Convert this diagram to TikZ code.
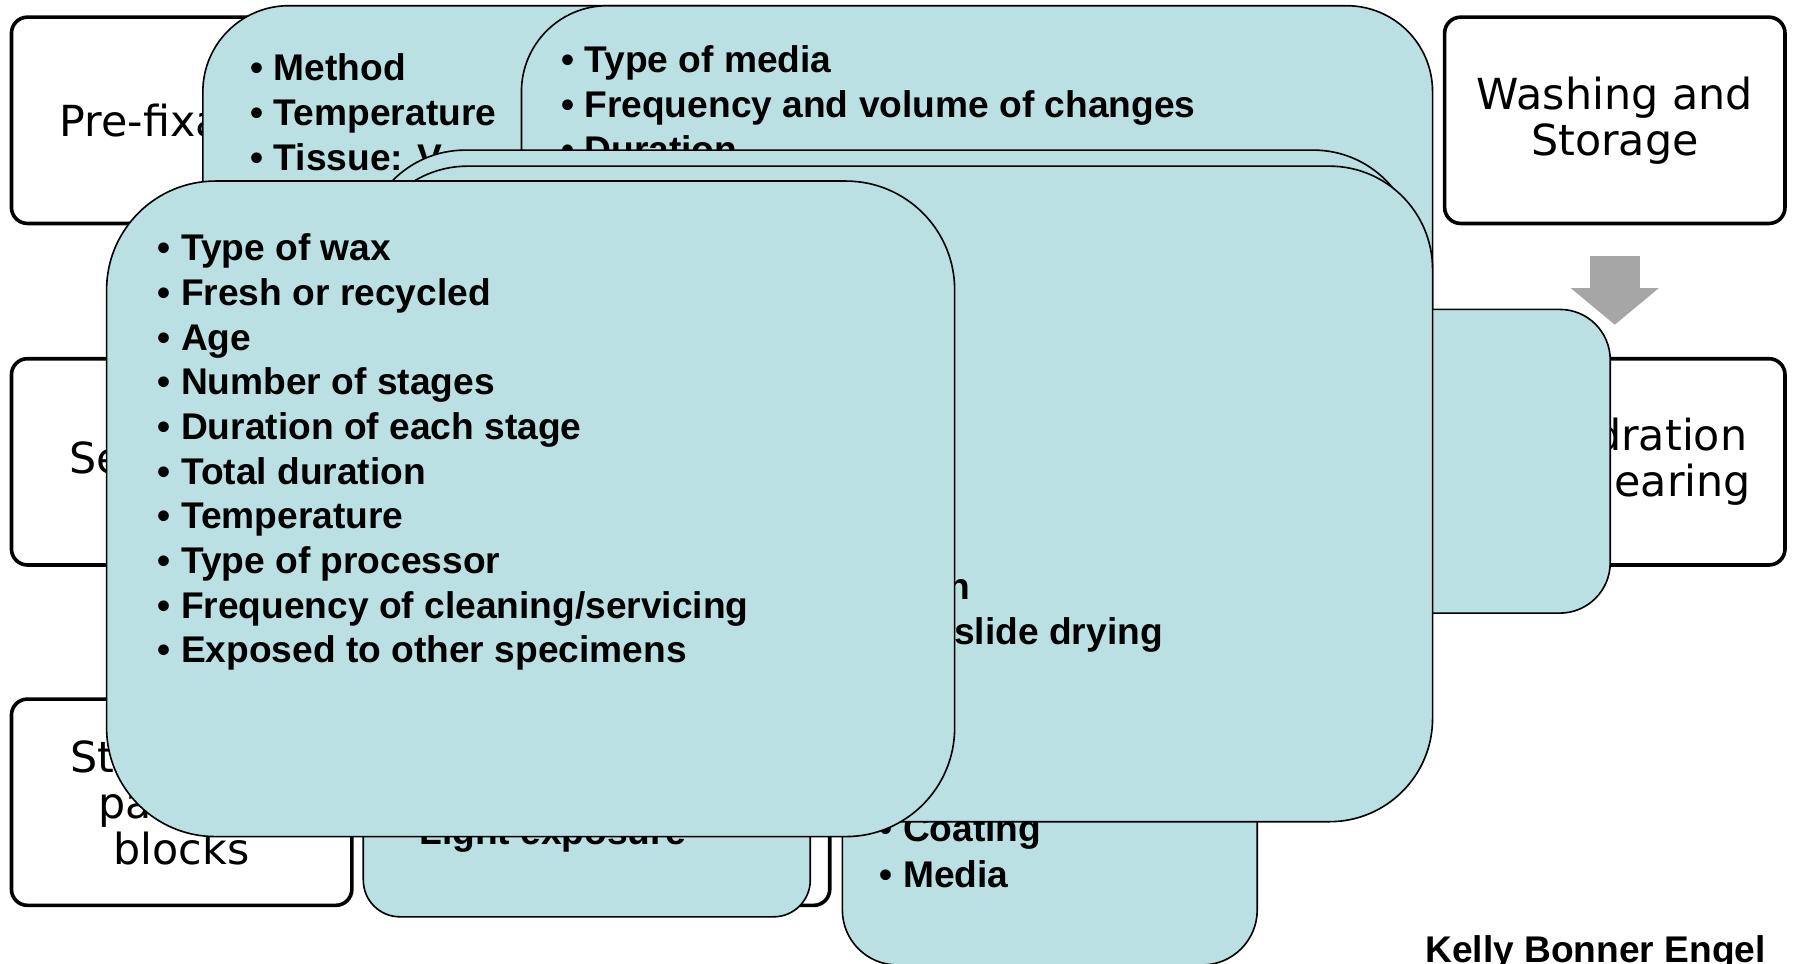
\documentclass[tikz,border=0pt]{standalone}
\usepackage{fontspec}
\setmainfont{Liberation Sans}
\newfontfamily\boxfont{DejaVu Sans}
\usetikzlibrary{arrows.meta}
\definecolor{Pale}{HTML}{BAE0E3}
\definecolor{Shade}{HTML}{A6A6A6}
\tikzset{
    stepbox/.style={rectangle, rounded corners=0.14cm, draw=black, line width=0.9pt, fill=white, minimum width=2.97cm, minimum height=1.8cm, align=center, inner sep=0pt, font=\boxfont\fontsize{10.63}{11.45}\selectfont},
    callout/.style={rectangle, draw=black, line width=0.4pt, fill=Pale, inner sep=0pt},
    item/.style={anchor=base west, inner sep=0pt, font=\bfseries\fontsize{9.22}{11.1}\selectfont},
    flowarrow/.style={line width=0.44cm, draw=Shade, -{Triangle[width=0.75cm, length=0.32cm]}},
}

\begin{document}
\begin{tikzpicture}
    \path[use as bounding box, fill=white] (0,0) rectangle (15.68,8.41);

    % process steps
    \node[stepbox] (prefix) at (1.585,7.36) {Pre-fixation};
    \node[stepbox] (section) at (1.585,4.38) {Sectioning};
    \node[stepbox] (blocks) at (1.585,1.41) {Storage of\\paraffin\\blocks};
    \node[stepbox] (washing) at (14.09,7.36) {Washing and\\Storage};
    \node[stepbox] (dehyd) at (14.09,4.38) {Dehydration\\and Clearing};
    \node[stepbox] (lowstep) at (5.755,1.41) {};

    \draw[flowarrow] ([yshift=-0.27cm]washing.south) -- ([yshift=0.28cm]dehyd.north);

    % fixation
    \node[callout, minimum width=5.23cm, minimum height=4.45cm, rounded corners=0.75cm] (tempbox) at (4.385,6.135) {};
    \foreach \t [count=\i from 0] in {Method, Temperature, Tissue: V}
        \node[item] (temp-\i) at (2.18,{7.705-0.39*\i}) {\textbullet\ \t};

    % washing
    \node[callout, minimum width=7.95cm, minimum height=4.95cm, rounded corners=0.75cm] (mediabox) at (8.525,5.885) {};
    \foreach \t [count=\i from 0] in {Type of media, Frequency and volume of changes, Duration}
        \node[item] (media-\i) at (4.89,{7.775-0.39*\i}) {\textbullet\ \t};

    \node[callout, minimum width=3.05cm, minimum height=2.65cm, rounded corners=0.44cm] (clearbox) at (12.525,4.385) {};

    % storage
    \node[callout, minimum width=3.90cm, minimum height=1.92cm, rounded corners=0.32cm] (lightbox) at (5.12,1.37) {};
    \node[item] (light-0) at (3.45,1.04) {\textbullet\ Light exposure};

    \node[callout, minimum width=3.62cm, minimum height=3.62cm, rounded corners=0.48cm] (coatbox) at (9.16,1.80) {};
    \foreach \t [count=\i from 0] in {Coating, Media}
        \node[item] (coat-\i) at (7.67,{1.065-0.40*\i}) {\textbullet\ \t};

    % sectioning
    \node[callout, minimum width=9.18cm, minimum height=4.69cm, rounded corners=0.89cm] (upperbox) at (7.76,4.755) {};
    \node[callout, minimum width=9.32cm, minimum height=5.72cm, rounded corners=0.90cm] (dryingbox) at (7.84,4.10) {};
    \node[item] (dry-0) at (8.26,3.18) {n};
    \node[item] (dry-1) at (8.32,2.79) {slide drying};

    % processing
    \node[callout, minimum width=7.40cm, minimum height=5.72cm, rounded corners=0.95cm] (waxbox) at (4.63,3.97) {};
    \foreach \t [count=\i from 0] in {Type of wax, Fresh or recycled, Age, Number of stages, Duration of each stage, Total duration, Temperature, Type of processor, Frequency of cleaning/servicing, Exposed to other specimens}
        \node[item] (wax-\i) at (1.37,{6.135-0.39*\i}) {\textbullet\ \t};

    \node[item] (author) at (12.43,0.01) {Kelly Bonner Engel};
\end{tikzpicture}
\end{document}
